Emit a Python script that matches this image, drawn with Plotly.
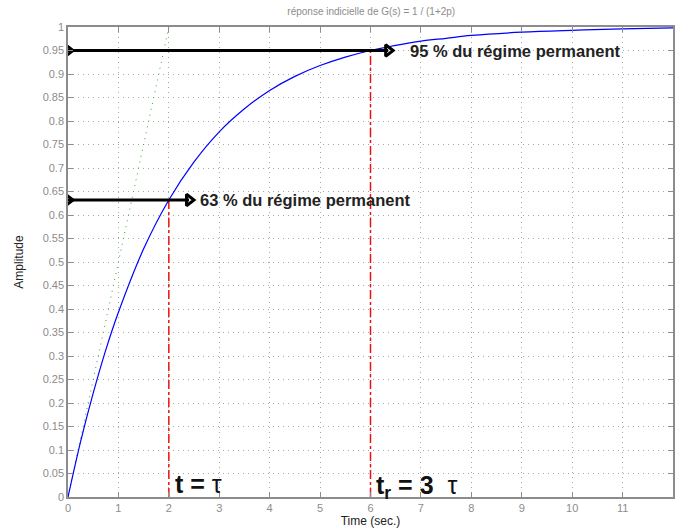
import plotly.graph_objects as go

# Step response
t_vals = [0, 0.25, 0.5, 0.75, 1, 1.5, 2, 2.5, 3, 3.5, 4, 4.5, 5, 5.5, 6, 6.5, 7, 7.5, 8, 9, 10, 11, 12]
amp_vals = [0, 0.118, 0.221, 0.313, 0.393, 0.528, 0.632, 0.713, 0.777, 0.826, 0.865, 0.895, 0.918,
            0.936, 0.950, 0.961, 0.970, 0.976, 0.982, 0.989, 0.993, 0.996, 0.998]

# Tangent at origin
tangent_t = [0, 2]
tangent_y = [0, 1]

# Marker lines
tau_x = [2, 2]
tau_y = [0, 0.632]
tr_x = [6, 6]
tr_y = [0, 0.95]

arrow63_x = [0, 2.4]
arrow63_y = [0.632, 0.632]
arrow95_x = [0, 6.35]
arrow95_y = [0.95, 0.95]

x_ticks = list(range(0, 13))
y_ticks = [round(i * 0.05, 2) for i in range(21)]
y_ticktext = ["0", "0.05", "0.1", "0.15", "0.2", "0.25", "0.3", "0.35", "0.4", "0.45", "0.5",
              "0.55", "0.6", "0.65", "0.7", "0.75", "0.8", "0.85", "0.9", "0.95", "1"]

title_text = "réponse indicielle de G(s) = 1 / (1+2p)"
label63 = "63 % du régime permanent"
label95 = "95 % du régime permanent"

FONT = "Liberation Sans, Arial, Helvetica, sans-serif"
GRAY = "#8c8c8c"

fig = go.Figure()

fig.add_trace(go.Scatter(x=tangent_t, y=tangent_y, mode="lines",
                         line=dict(color="#33aa33", width=1, dash="1px,5px"), hoverinfo="skip"))
fig.add_trace(go.Scatter(x=tau_x, y=tau_y, mode="lines",
                         line=dict(color="#ee1111", width=1.5, dash="dashdot")))
fig.add_trace(go.Scatter(x=tr_x, y=tr_y, mode="lines",
                         line=dict(color="#ee1111", width=1.5, dash="dashdot")))
fig.add_trace(go.Scatter(x=t_vals, y=amp_vals, mode="lines",
                         line=dict(color="#0000ff", width=1.2, shape="spline")))

for ax_, ay_ in [(arrow63_x, arrow63_y), (arrow95_x, arrow95_y)]:
    fig.add_trace(go.Scatter(x=ax_, y=ay_, mode="lines+markers",
                             line=dict(color="black", width=3),
                             marker=dict(symbol="triangle-right-open", size=10, color="black",
                                         line=dict(color="black", width=3))))

fig.add_annotation(x=2.58, y=0.632, text="<b>" + label63 + "</b>", showarrow=False,
                   xanchor="left", yanchor="middle", font=dict(family=FONT, size=16.5, color="#222"))
fig.add_annotation(x=6.75, y=0.95, text="<b>" + label95 + "</b>", showarrow=False,
                   xanchor="left", yanchor="middle", font=dict(family=FONT, size=16.5, color="#222"))
fig.add_annotation(x=2.08, y=0.0, text="<b>t = </b>τ", showarrow=False,
                   xanchor="left", yanchor="bottom", yshift=-3,
                   font=dict(family=FONT, size=25, color="#111"))
fig.add_annotation(x=6.06, y=0.0, text="<b>t<sub>r</sub> = 3 </b> τ", showarrow=False,
                   xanchor="left", yanchor="bottom", yshift=-8,
                   font=dict(family=FONT, size=25, color="#111"))

fig.update_layout(
    width=675, height=531,
    margin=dict(l=68, r=0, t=27, b=34),
    paper_bgcolor="white", plot_bgcolor="white",
    showlegend=False,
    font=dict(family=FONT, size=11, color=GRAY),
    title=dict(text=title_text, x=0.55, xanchor="center", y=0.985, yanchor="top",
               font=dict(family=FONT, size=10, color=GRAY)),
)
fig.update_xaxes(range=[0, 12], tickvals=x_ticks, ticks="inside", ticklen=5, tickcolor=GRAY,
                 showline=True, linecolor=GRAY, linewidth=1.5, mirror="allticks",
                 showgrid=True, gridcolor="#a8a8a8", griddash="1px,4px", gridwidth=1,
                 zeroline=False, tickfont=dict(size=11, color=GRAY),
                 title=dict(text="Time (sec.)", standoff=3, font=dict(size=12, color="#222")))
fig.update_yaxes(range=[0, 1], tickvals=y_ticks, ticktext=y_ticktext, ticks="inside", ticklen=5,
                 tickcolor=GRAY, showline=True, linecolor=GRAY, linewidth=1.5, mirror="allticks",
                 showgrid=True, gridcolor="#a8a8a8", griddash="1px,4px", gridwidth=1,
                 zeroline=False, tickfont=dict(size=11, color=GRAY),
                 title=dict(text="Amplitude", standoff=16, font=dict(size=12, color="#222")))

fig.write_html("out.html")
